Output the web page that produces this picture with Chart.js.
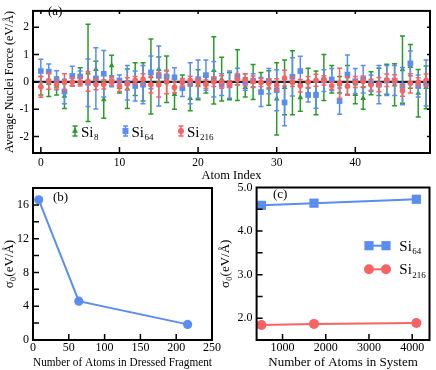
<!DOCTYPE html>
<html>
<head>
<meta charset="utf-8">
<script src="https://cdn.jsdelivr.net/npm/chart.js@4.4.1/dist/chart.umd.min.js"></script>
<style>
    body { margin: 0; background: #fff; width: 436px; height: 370px; position: relative; overflow: hidden; }
    canvas { position: absolute; }
</style>
</head>
<body>
<canvas id="forceChart" width="436" height="184" style="left:0;top:0"></canvas>
<canvas id="fragmentChart" width="226" height="198" style="left:0;top:172px"></canvas>
<canvas id="systemChart" width="218" height="198" style="left:218px;top:172px"></canvas>
<script>
// (a) average nuclei force per atom, value and error bar
const atomIndex = [0, 1, 2, 3, 4, 5, 6, 7, 8, 9, 10, 11, 12, 13, 14, 15, 16, 17, 18, 19,
    20, 21, 22, 23, 24, 25, 26, 27, 28, 29, 30, 31, 32, 33, 34, 35, 36, 37, 38, 39,
    40, 41, 42, 43, 44, 45, 46, 47, 48, 49];
const si8Force = [-0.14, -0.05, -0.15, -0.52, 0.05, 0.22, 0.33, 0.46, -0.65, 0.60,
    -0.20, -0.25, 0.10, 0.00, 0.20, 0.46, 0.10, -0.45, 0.00, -0.60,
    -0.10, -0.10, 0.42, 0.10, -0.15, 0.25, -0.20, 0.00, 0.00, -0.22,
    -0.62, -0.20, -0.03, -0.57, 0.05, -0.40, 0.16, 0.10, -0.10, 0.20,
    -0.45, -0.60, -0.05, 0.00, 0.10, -0.10, 0.45, 0.57, -0.41, -0.20];
const si8Err = [0.34, 0.48, 0.33, 0.45, 0.20, 0.30, 1.78, 0.30, 0.68, 0.38,
    0.20, 0.72, 0.60, 0.70, 1.37, 0.45, 0.85, 0.55, 0.25, 0.45,
    0.55, 0.30, 1.23, 0.80, 0.50, 0.93, 0.35, 0.64, 0.35, 0.63,
    1.32, 1.00, 1.17, 0.50, 0.45, 0.80, 0.84, 0.50, 0.30, 0.40,
    0.35, 0.40, 0.42, 0.50, 0.55, 0.77, 1.23, 0.80, 0.87, 0.78];
const si64Force = [0.40, 0.38, 0.06, -0.35, 0.22, 0.20, -0.03, 0.13, 0.30, 0.02,
    0.05, -0.03, -0.15, -0.10, 0.35, 0.22, 0.20, 0.17, -0.23, -0.05,
    0.10, 0.25, 0.10, -0.10, -0.10, 0.20, 0.00, 0.05, -0.37, 0.03,
    -0.30, -0.75, 0.19, 0.40, -0.48, -0.48, 0.05, 0.09, -0.70, 0.27,
    0.03, 0.10, -0.05, -0.10, 0.05, 0.05, -0.15, 0.68, -0.15, -0.04];
const si64Err = [0.43, 0.28, 0.35, 0.45, 0.35, 0.20, 0.87, 1.12, 0.85, 0.20,
    0.20, 0.63, 0.55, 0.70, 0.60, 1.10, 0.20, 0.35, 0.30, 0.75,
    0.70, 0.55, 0.65, 0.40, 0.50, 0.30, 0.30, 0.25, 0.53, 0.46,
    0.75, 0.85, 0.70, 0.54, 0.25, 0.48, 0.40, 0.40, 0.48, 0.72,
    0.46, 0.50, 0.30, 0.70, 0.55, 0.55, 0.68, 0.45, 0.40, 0.84];
const si216Force = [-0.18, 0.03, -0.10, 0.00, 0.00, 0.00, 0.02, -0.09, -0.09, 0.02,
    -0.15, -0.07, 0.06, 0.10, -0.10, -0.10, 0.00, -0.20, -0.02, 0.06,
    -0.02, -0.08, 0.00, 0.00, -0.08, 0.09, 0.08, 0.02, -0.02, -0.05,
    -0.11, 0.14, 0.00, -0.14, 0.00, 0.06, 0.06, -0.14, -0.05, -0.15,
    0.00, 0.02, -0.10, -0.10, 0.06, 0.06, -0.32, -0.05, 0.00, 0.06];
const si216Err = [0.38, 0.30, 0.17, 0.30, 0.15, 0.15, 0.36, 0.20, 0.17, 0.14,
    0.20, 0.22, 0.14, 0.20, 0.30, 0.45, 0.43, 0.20, 0.15, 0.15,
    0.15, 0.15, 0.17, 0.23, 0.12, 0.20, 0.22, 0.20, 0.15, 0.17,
    0.23, 0.29, 0.17, 0.23, 0.20, 0.22, 0.17, 0.14, 0.55, 0.34,
    0.20, 0.20, 0.20, 0.26, 0.23, 0.20, 0.20, 0.35, 0.15, 0.23];
const forceXTicks = [0, 10, 20, 30, 40];
const forceYTicks = [-2, -1, 0, 1, 2];

// (b) sigma vs dressed fragment size
const fragmentAtoms = [8, 64, 216];
const fragmentSigma = [16.6, 4.6, 1.85];
const fragmentXTicks = [0, 50, 100, 150, 200, 250];
const fragmentYTicks = [0, 4, 8, 12, 16];
const fragmentYMarks = [2, 4, 6, 8, 10, 12, 14, 16];

// (c) sigma vs system size
const systemAtoms = [512, 1728, 4096];
const systemSigmaSi64 = [4.59, 4.64, 4.73];
const systemSigmaSi216 = [1.846, 1.87, 1.89];
const systemXTicks = [1000, 2000, 3000, 4000];
const systemYTicks = [2, 3, 4, 5];
const systemYMarks = [2, 2.5, 3, 3.5, 4, 4.5];

const GREEN = '#2a9a2a';
const BLUE = '#5a8def';
const RED = '#f76363';
const SERIF = '"Liberation Serif", "Times New Roman", serif';

Chart.defaults.font.family = SERIF;
Chart.defaults.color = '#000';
Chart.defaults.animation = false;

function fixedTicks(values) {
    return scale => { scale.ticks = values.map(v => ({ value: v })); };
}

const plainNumber = v => String(v);

function drawSubText(ctx, base, sub, x, y, size) {
    ctx.save();
    ctx.fillStyle = '#000';
    ctx.textBaseline = 'alphabetic';
    ctx.textAlign = 'left';
    ctx.font = size + 'px ' + SERIF;
    ctx.fillText(base, x, y);
    const w = ctx.measureText(base).width;
    ctx.font = Math.round(size * 0.6) + 'px ' + SERIF;
    ctx.fillText(sub, x + w + 0.5, y + size * 0.25);
    ctx.restore();
}

function drawLabel(ctx, text, x, y, size) {
    ctx.save();
    ctx.fillStyle = '#000';
    ctx.font = size + 'px ' + SERIF;
    ctx.textBaseline = 'middle';
    ctx.textAlign = 'left';
    ctx.fillText(text, x, y);
    ctx.restore();
}

// Рамка и внутренние риски
const framePlugin = {
    id: 'frame',
    afterDraw(chart, args, opts) {
        const { ctx, chartArea: a, scales: { x, y } } = chart;
        const len = opts.len || 6;
        const mlen = opts.mirrorLen || 3;
        ctx.save();
        ctx.strokeStyle = '#000';
        ctx.lineWidth = 1.5;
        ctx.beginPath();
        (opts.xMarks || []).forEach(v => {
            const px = x.getPixelForValue(v);
            ctx.moveTo(px, a.bottom);
            ctx.lineTo(px, a.bottom - len);
            if (opts.mirror) {
                ctx.moveTo(px, a.top);
                ctx.lineTo(px, a.top + mlen);
            }
        });
        (opts.yMarks || []).forEach(v => {
            const py = y.getPixelForValue(v);
            ctx.moveTo(a.left, py);
            ctx.lineTo(a.left + len, py);
            if (opts.mirror) {
                ctx.moveTo(a.right, py);
                ctx.lineTo(a.right - mlen, py);
            }
        });
        ctx.stroke();
        ctx.lineWidth = 2;
        ctx.strokeRect(a.left, a.top, a.width, a.height);
        ctx.restore();
        if (opts.label) {
            drawLabel(ctx, opts.label.text, opts.label.x, opts.label.y, 13);
        }
    }
};

// Планки погрешностей
const errorBarPlugin = {
    id: 'errorBars',
    beforeDatasetsDraw(chart) {
        const { ctx, chartArea: a, scales: { y } } = chart;
        const py = y.getPixelForValue(0);
        ctx.save();
        ctx.strokeStyle = '#222';
        ctx.lineWidth = 2.2;
        ctx.beginPath();
        ctx.moveTo(a.left, py);
        ctx.lineTo(a.right, py);
        ctx.stroke();
        ctx.restore();
    },
    beforeDatasetDraw(chart, args) {
        const ds = chart.data.datasets[args.index];
        if (!ds.errors) return;
        const { ctx, chartArea: a, scales: { x, y } } = chart;
        ctx.save();
        ctx.beginPath();
        ctx.rect(a.left, a.top, a.width, a.height);
        ctx.clip();
        ctx.strokeStyle = ds.borderColor;
        ctx.lineWidth = 1.5;
        ctx.beginPath();
        ds.data.forEach((p, i) => {
            const px = x.getPixelForValue(p.x);
            const top = y.getPixelForValue(p.y + ds.errors[i]);
            const bot = y.getPixelForValue(p.y - ds.errors[i]);
            ctx.moveTo(px, top);
            ctx.lineTo(px, bot);
            ctx.moveTo(px - 2.5, top);
            ctx.lineTo(px + 2.5, top);
            ctx.moveTo(px - 2.5, bot);
            ctx.lineTo(px + 2.5, bot);
        });
        ctx.stroke();
        ctx.restore();
    },
    afterDraw(chart) {
        // легенда панели (a)
        const ctx = chart.ctx;
        const items = [
            { color: GREEN, style: 'triangle', r: 3.5, x: 75, text: '8' },
            { color: BLUE, style: 'rect', r: 4.2, x: 125.5, text: '64' },
            { color: RED, style: 'circle', r: 3, x: 181, text: '216' },
        ];
        const ly = 131;
        items.forEach(it => {
            ctx.save();
            ctx.strokeStyle = it.color;
            ctx.fillStyle = it.color;
            ctx.lineWidth = 1.5;
            ctx.beginPath();
            ctx.moveTo(it.x, ly - 5);
            ctx.lineTo(it.x, ly + 5);
            ctx.moveTo(it.x - 2.5, ly - 5);
            ctx.lineTo(it.x + 2.5, ly - 5);
            ctx.moveTo(it.x - 2.5, ly + 5);
            ctx.lineTo(it.x + 2.5, ly + 5);
            ctx.stroke();
            Chart.helpers.drawPoint(ctx, { pointStyle: it.style, radius: it.r, rotation: 0, borderWidth: 0 }, it.x, ly);
            ctx.restore();
            drawSubText(ctx, 'Si', it.text, it.x + 6, ly + 5.5, 15);
        });
    }
};

function scatterSet(label, values, errors, color, style, radius, order) {
    return {
        label: label,
        data: atomIndex.map((a, i) => ({ x: a, y: values[i] })),
        errors: errors,
        borderColor: color,
        backgroundColor: color,
        pointStyle: style,
        pointRadius: radius,
        pointBorderWidth: 0,
        showLine: false,
        order: order,
    };
}

new Chart(document.getElementById('forceChart'), {
    type: 'scatter',
    data: {
        datasets: [
            scatterSet('Si8', si8Force, si8Err, GREEN, 'triangle', 3.3, 2),
            scatterSet('Si64', si64Force, si64Err, BLUE, 'rect', 4, 1),
            scatterSet('Si216', si216Force, si216Err, RED, 'circle', 2.8, 0),
        ]
    },
    options: {
        responsive: false,
        animation: false,
        layout: { padding: { top: 1.5, right: 6, left: 0, bottom: 0 } },
        plugins: {
            legend: { display: false },
            tooltip: { enabled: false },
            frame: { xMarks: forceXTicks, yMarks: forceYTicks, len: 6, mirror: true, mirrorLen: 3, label: { text: '(a)', x: 48, y: 12 } },
        },
        scales: {
            x: {
                type: 'linear', min: -1, max: 49.5,
                afterBuildTicks: fixedTicks(forceXTicks),
                afterFit: s => { s.height = 31; },
                grid: { display: false, drawTicks: false },
                border: { display: false },
                ticks: { padding: 3, font: { size: 11.5 }, maxRotation: 0, autoSkip: false, callback: plainNumber },
                title: { display: true, text: 'Atom Index', font: { size: 12.5 }, padding: { top: 0, bottom: 1 } },
            },
            y: {
                min: -2.6, max: 2.6,
                afterBuildTicks: fixedTicks(forceYTicks),
                afterFit: s => { s.width = 33; },
                grid: { display: false, drawTicks: false },
                border: { display: false },
                ticks: { padding: 4, font: { size: 11.5 }, autoSkip: false, callback: plainNumber },
                title: { display: true, text: 'Average Nuclei Force (eV/Å)', font: { size: 12 }, padding: { top: 2.8, bottom: 0 } },
            },
        },
    },
    plugins: [errorBarPlugin, framePlugin],
});

new Chart(document.getElementById('fragmentChart'), {
    type: 'scatter',
    data: {
        datasets: [{
            label: 'sigma',
            data: fragmentAtoms.map((n, i) => ({ x: n, y: fragmentSigma[i] })),
            showLine: true,
            borderColor: BLUE,
            backgroundColor: BLUE,
            borderWidth: 2,
            pointRadius: 4.6,
            pointBorderWidth: 0,
            clip: false,
        }]
    },
    options: {
        responsive: false,
        animation: false,
        layout: { padding: { top: 16, right: 14, left: 0, bottom: 0 } },
        plugins: {
            legend: { display: false },
            tooltip: { enabled: false },
            frame: { xMarks: fragmentXTicks, yMarks: fragmentYMarks, len: 6, label: { text: '(b)', x: 53, y: 26 } },
        },
        scales: {
            x: {
                type: 'linear', min: 0, max: 250,
                afterBuildTicks: fixedTicks(fragmentXTicks),
                afterFit: s => { s.height = 30; },
                grid: { display: false, drawTicks: false },
                border: { display: false },
                ticks: { padding: 1, font: { size: 12 }, maxRotation: 0, autoSkip: false, callback: plainNumber },
                title: { display: true, text: 'Number of Atoms in Dressed Fragment', font: { size: 13, lineHeight: 1.1 }, padding: { top: 0, bottom: 0 } },
            },
            y: {
                min: 0, max: 18,
                afterBuildTicks: fixedTicks(fragmentYTicks),
                afterFit: s => { s.width = 33; },
                grid: { display: false, drawTicks: false },
                border: { display: false },
                ticks: { padding: 4, font: { size: 12 }, autoSkip: false, callback: plainNumber },
                title: { display: true, text: 'σ₀(eV/Å)', font: { size: 13 }, padding: { top: 2.2, bottom: 0 } },
            },
        },
    },
    plugins: [framePlugin],
});

const systemLegendPlugin = {
    id: 'systemLegend',
    afterDraw(chart) {
        const ctx = chart.ctx;
        const items = [
            { color: BLUE, style: 'rect', r: 6.5, y: 73.7, text: '64' },
            { color: RED, style: 'circle', r: 5, y: 97.3, text: '216' },
        ];
        items.forEach(it => {
            ctx.save();
            ctx.strokeStyle = it.color;
            ctx.fillStyle = it.color;
            ctx.lineWidth = 2;
            ctx.beginPath();
            ctx.moveTo(151, it.y);
            ctx.lineTo(168, it.y);
            ctx.stroke();
            Chart.helpers.drawPoint(ctx, { pointStyle: it.style, radius: it.r, rotation: 0, borderWidth: 0 }, 151, it.y);
            Chart.helpers.drawPoint(ctx, { pointStyle: it.style, radius: it.r, rotation: 0, borderWidth: 0 }, 168, it.y);
            ctx.restore();
            drawSubText(ctx, 'Si', it.text, 181.3, it.y + 5, 15);
        });
    }
};

new Chart(document.getElementById('systemChart'), {
    type: 'scatter',
    data: {
        datasets: [
            {
                label: 'Si64',
                data: systemAtoms.map((n, i) => ({ x: n, y: systemSigmaSi64[i] })),
                showLine: true,
                borderColor: BLUE,
                backgroundColor: BLUE,
                borderWidth: 2,
                pointStyle: 'rect',
                pointRadius: 6.5,
                pointBorderWidth: 0,
                clip: false,
            },
            {
                label: 'Si216',
                data: systemAtoms.map((n, i) => ({ x: n, y: systemSigmaSi216[i] })),
                showLine: true,
                borderColor: RED,
                backgroundColor: RED,
                borderWidth: 2,
                pointStyle: 'circle',
                pointRadius: 5,
                pointBorderWidth: 0,
                clip: false,
            },
        ]
    },
    options: {
        responsive: false,
        animation: false,
        layout: { padding: { top: 15.5, right: 5, left: 0, bottom: 0 } },
        plugins: {
            legend: { display: false },
            tooltip: { enabled: false },
            frame: { xMarks: systemXTicks, yMarks: systemYMarks, len: 6, label: { text: '(c)', x: 55, y: 23 } },
        },
        scales: {
            x: {
                type: 'linear', min: 400, max: 4400,
                afterBuildTicks: fixedTicks(systemXTicks),
                afterFit: s => { s.height = 30; },
                grid: { display: false, drawTicks: false },
                border: { display: false },
                ticks: { padding: 1, font: { size: 12 }, maxRotation: 0, autoSkip: false, callback: plainNumber },
                title: { display: true, text: 'Number of Atoms in System', font: { size: 13, lineHeight: 1.1 }, padding: { top: 0, bottom: 0 } },
            },
            y: {
                min: 1.5, max: 5.0,
                afterBuildTicks: fixedTicks(systemYTicks),
                afterFit: s => { s.width = 38.6; },
                grid: { display: false, drawTicks: false },
                border: { display: false },
                ticks: { padding: 4, font: { size: 12 }, autoSkip: false, callback: v => v.toFixed(1) },
                title: { display: true, text: 'σ₀(eV/Å)', font: { size: 13 }, padding: { top: 0.2, bottom: 0 } },
            },
        },
    },
    plugins: [framePlugin, systemLegendPlugin],
});
</script>
</body>
</html>
